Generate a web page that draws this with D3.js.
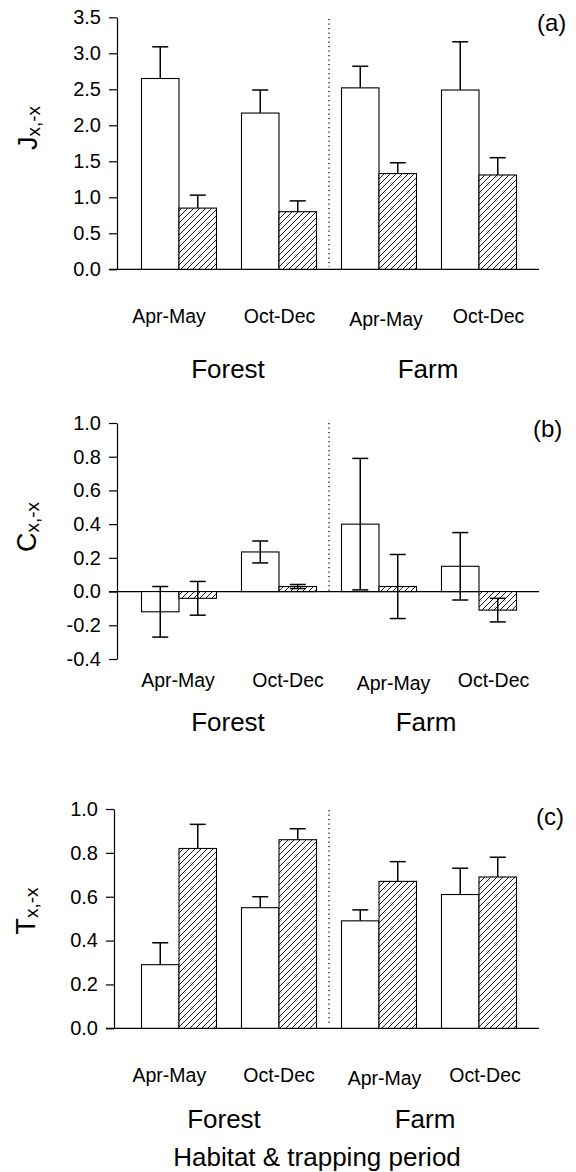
<!DOCTYPE html>
<html>
<head>
<meta charset="utf-8">
<script src="https://cdn.jsdelivr.net/npm/d3@7"></script>
<style>
  html, body { margin: 0; padding: 0; background: #fff; }
  svg { display: block; }
  text { font-family: "Liberation Sans", Arial, Helvetica, sans-serif; fill: #000; }
</style>
</head>
<body>
<div id="chart"></div>
<script>
// ---------------- DATA ----------------
const groups = ["Forest Apr-May", "Forest Oct-Dec", "Farm Apr-May", "Farm Oct-Dec"];
const periodLabels = ["Apr-May", "Oct-Dec", "Apr-May", "Oct-Dec"];
const habitats = ["Forest", "Farm"];
const series = ["open", "hatched"];

// (a) J x,-x  (one-sided upper error)
const jOpen       = [2.65, 2.17, 2.52, 2.49];
const jOpenErr    = [0.44, 0.32, 0.30, 0.67];
const jHatched    = [0.85, 0.80, 1.33, 1.31];
const jHatchedErr = [0.18, 0.15, 0.15, 0.24];
const jTicks = [0.0, 0.5, 1.0, 1.5, 2.0, 2.5, 3.0, 3.5];

// (b) C x,-x  (two-sided error)
const cOpen       = [-0.12, 0.235, 0.40, 0.15];
const cOpenErr    = [0.15, 0.065, 0.39, 0.20];
const cHatched    = [-0.04, 0.03, 0.03, -0.11];
const cHatchedErr = [0.10, 0.012, 0.19, 0.07];
const cTicks = [-0.4, -0.2, 0.0, 0.2, 0.4, 0.6, 0.8, 1.0];

// (c) T x,-x  (one-sided upper error)
const tOpen       = [0.29, 0.55, 0.49, 0.61];
const tOpenErr    = [0.10, 0.05, 0.05, 0.12];
const tHatched    = [0.82, 0.86, 0.67, 0.69];
const tHatchedErr = [0.11, 0.05, 0.09, 0.09];
const tTicks = [0.0, 0.2, 0.4, 0.6, 0.8, 1.0];

const xTitle = "Habitat & trapping period";

// ---------------- LAYOUT ----------------
const W = 576, H = 1172;
const FONT = '"Liberation Sans", Arial, Helvetica, sans-serif';

const svg = d3.select("#chart").append("svg")
  .attr("width", W).attr("height", H)
  .attr("viewBox", `0 0 ${W} ${H}`);

svg.append("rect").attr("width", W).attr("height", H).attr("fill", "#fff");

const defs = svg.append("defs");
const pat = defs.append("pattern")
  .attr("id", "hatch")
  .attr("patternUnits", "userSpaceOnUse")
  .attr("width", 6).attr("height", 6);
pat.append("rect").attr("width", 6).attr("height", 6).attr("fill", "#fff");
pat.append("path")
  .attr("d", "M-1,1 L1,-1 M0,6 L6,0 M5,7 L7,5")
  .attr("stroke", "#000").attr("stroke-width", 0.9);

const x = d3.scaleBand().domain(groups).range([129, 529])
  .paddingInner(0.25).paddingOuter(0.125);
const xs = d3.scaleBand().domain(series).range([0, x.bandwidth()]);

const panels = [
  {
    tag: "(a)", letter: "J", ticks: jTicks, domain: [0, 3.5], range: [269.3, 17.3],
    open: jOpen, openErr: jOpenErr, hatched: jHatched, hatchedErr: jHatchedErr,
    twoSided: false, axisX: 117, xEnd: 539,
    labelY: 128, labelX: 37,
    tagX: 537, tagY: 31,
    dotTop: 19, dotBottom: 267,
    catY: 323, catOff: [-10, 0.5, 7, 9.5], catDy: [0, 0, 3, 0],
    habY: 378, habOff: [-1, -1]
  },
  {
    tag: "(b)", letter: "C", ticks: cTicks, domain: [-0.4, 1.0], range: [659, 423],
    open: cOpen, openErr: cOpenErr, hatched: cHatched, hatchedErr: cHatchedErr,
    twoSided: true, axisX: 117, xEnd: 539,
    labelY: 527, labelX: 36,
    tagX: 533, tagY: 437,
    dotTop: 423, dotBottom: 591,
    catY: 687, catOff: [-1, 9, 14.5, 14.5], catDy: [0, 0, 3, 0],
    habY: 731, habOff: [-1, -3]
  },
  {
    tag: "(c)", letter: "T", ticks: tTicks, domain: [0, 1.0], range: [1028.3, 809],
    open: tOpen, openErr: tOpenErr, hatched: tHatched, hatchedErr: tHatchedErr,
    twoSided: false, axisX: 114, xEnd: 539,
    labelY: 911, labelX: 35,
    tagX: 536, tagY: 825,
    dotTop: 810, dotBottom: 1025,
    catY: 1082, catOff: [-9.7, 0, 5.5, 6], catDy: [0, 0, 3, 0],
    habY: 1128, habOff: [-5, -4]
  }
];

panels.forEach(p => {
  const y = d3.scaleLinear().domain(p.domain).range(p.range);
  const g = svg.append("g");

  // y axis
  const axis = d3.axisLeft(y)
    .tickValues(p.ticks)
    .tickFormat(d3.format(".1f"))
    .tickSize(8).tickSizeOuter(0).tickPadding(8);
  const ag = g.append("g").attr("transform", `translate(${p.axisX},0)`).call(axis);
  ag.selectAll("path.domain").attr("stroke", "#000").attr("stroke-width", 1.2);
  ag.selectAll(".tick line").attr("stroke", "#000").attr("stroke-width", 1.2);
  ag.selectAll(".tick text")
    .attr("font-family", FONT).attr("font-size", 20).attr("fill", "#000")
    .text(d => d3.format(".1f")(d).replace("−", "-"));

  // baseline (y = 0)
  g.append("line")
    .attr("x1", p.axisX - 8).attr("x2", p.xEnd)
    .attr("y1", y(0)).attr("y2", y(0))
    .attr("stroke", "#000").attr("stroke-width", 1.2);

  // bars
  const rows = [];
  groups.forEach((grp, i) => {
    rows.push({ grp, s: "open", v: p.open[i], e: p.openErr[i] });
    rows.push({ grp, s: "hatched", v: p.hatched[i], e: p.hatchedErr[i] });
  });

  g.selectAll("rect.bar").data(rows).join("rect")
    .attr("class", "bar")
    .attr("x", d => x(d.grp) + xs(d.s))
    .attr("width", xs.bandwidth())
    .attr("y", d => Math.min(y(d.v), y(0)))
    .attr("height", d => Math.abs(y(d.v) - y(0)))
    .attr("fill", d => d.s === "open" ? "#fff" : "url(#hatch)")
    .attr("stroke", "#000").attr("stroke-width", 1.1);

  // error bars
  const capW = 16;
  const eg = g.append("g").attr("stroke", "#000").attr("stroke-width", 1.5).attr("fill", "none");
  rows.forEach(d => {
    const cx = x(d.grp) + xs(d.s) + xs.bandwidth() / 2;
    const top = y(d.v + d.e);
    const bot = p.twoSided ? y(d.v - d.e) : y(d.v);
    eg.append("line").attr("x1", cx).attr("x2", cx).attr("y1", top).attr("y2", bot);
    eg.append("line").attr("x1", cx - capW / 2).attr("x2", cx + capW / 2).attr("y1", top).attr("y2", top);
    if (p.twoSided) {
      eg.append("line").attr("x1", cx - capW / 2).attr("x2", cx + capW / 2).attr("y1", bot).attr("y2", bot);
    }
  });

  // dotted separator
  const sepX = (x(groups[1]) + x.bandwidth() + x(groups[2])) / 2;
  g.append("line")
    .attr("x1", sepX).attr("x2", sepX)
    .attr("y1", p.dotTop).attr("y2", p.dotBottom)
    .attr("stroke", "#000").attr("stroke-width", 1.2)
    .attr("stroke-dasharray", "1.2,3.3");

  // y label with subscript
  const yl = g.append("text")
    .attr("transform", `translate(${p.labelX},${p.labelY}) rotate(-90)`)
    .attr("text-anchor", "middle")
    .attr("font-family", FONT);
  yl.append("tspan").attr("font-size", 27).text(p.letter);
  yl.append("tspan").attr("font-size", 19).attr("dy", 3).text("x,-x");

  // panel tag
  g.append("text")
    .attr("x", p.tagX).attr("y", p.tagY)
    .attr("font-family", FONT).attr("font-size", 24)
    .text(p.tag);

  // period labels
  g.selectAll("text.cat").data(groups).join("text")
    .attr("class", "cat")
    .attr("x", (d, i) => x(d) + x.bandwidth() / 2 + p.catOff[i])
    .attr("y", (d, i) => p.catY + p.catDy[i])
    .attr("text-anchor", "middle")
    .attr("font-family", FONT).attr("font-size", 19.5)
    .text((d, i) => periodLabels[i]);

  // habitat labels
  habitats.forEach((h, k) => {
    const a = groups[2 * k], b = groups[2 * k + 1];
    const cx = (x(a) + x.bandwidth() / 2 + x(b) + x.bandwidth() / 2) / 2 + p.habOff[k];
    g.append("text")
      .attr("x", cx).attr("y", p.habY)
      .attr("text-anchor", "middle")
      .attr("font-family", FONT).attr("font-size", 26)
      .text(h);
  });
});

// overall x title
svg.append("text")
  .attr("x", 317).attr("y", 1166)
  .attr("text-anchor", "middle")
  .attr("font-family", FONT).attr("font-size", 26)
  .text(xTitle);
</script>
</body>
</html>
